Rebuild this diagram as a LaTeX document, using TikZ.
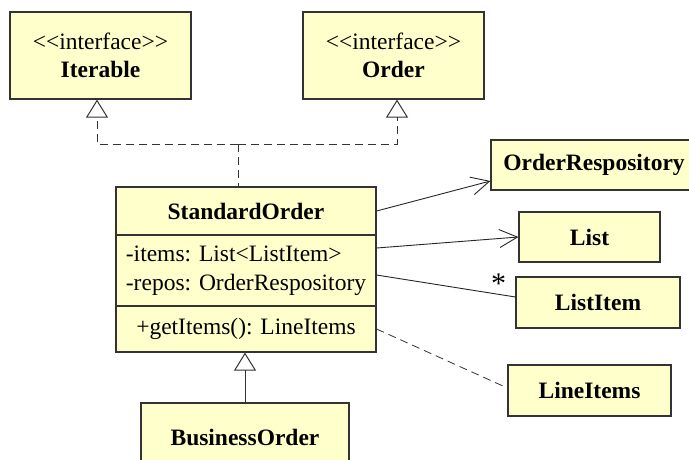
\documentclass[tikz,border=0pt]{standalone}
\usepackage{fontspec}
\setmainfont{Liberation Serif}
\usetikzlibrary{arrows.meta}
\definecolor{umlfill}{RGB}{255,255,204}
\definecolor{umlline}{RGB}{51,51,51}
% guillemets written as two separate signs
\newcommand{\stereo}[1]{<\kern0pt<#1>\kern0pt>}

\begin{document}
\begin{tikzpicture}[x=1pt,y=-1pt,font={\fontsize{23.5}{28.5}\selectfont},cls/.style={draw=umlline,fill=umlfill,line width=1.2pt,align=center,inner sep=0pt},gen/.style={-{Triangle[open,length=18pt,width=22pt]},draw=umlline,line width=1pt},real/.style={gen,dash pattern=on 8pt off 5pt},assoc/.style={-{Straight Barb[length=18pt,width=18pt]},draw=black!85,line width=0.9pt},dep/.style={draw=umlline,line width=0.8pt,dash pattern=on 8pt off 5pt}]
\clip (0,0) rectangle (689,459);
% interfaces
\node[cls,minimum width=181pt,minimum height=87pt](iter) at (100.5,55.5){\stereo{interface}\\\textbf{Iterable}};
\node[cls,minimum width=181pt,minimum height=87pt](order) at (393.5,55.5){\stereo{interface}\\\textbf{Order}};
% class with three compartments
\node[cls,minimum width=260pt,minimum height=48pt](stdname) at (246,211){\textbf{StandardOrder}};
\node[cls,align=left,minimum width=260pt,minimum height=71pt](stdattr) at (246,270.5){-items: List<ListItem>\\-repos: OrderRespository};
\node[cls,minimum width=260pt,minimum height=46pt](stdop) at (246,329){+getItems(): LineItems};
\node[cls,minimum width=208pt,minimum height=68pt](busi) at (245,437){\textbf{BusinessOrder}};
% referenced types
\node[cls,minimum width=206pt,minimum height=50pt](orepo) at (594,165){\textbf{OrderRespository}};
\node[cls,minimum width=141pt,minimum height=50pt](list) at (589.5,237){\textbf{List}};
\node[cls,minimum width=164pt,minimum height=51pt](litem) at (598,302.5){\textbf{ListItem}};
\node[cls,minimum width=163pt,minimum height=51pt](lines) at (589.5,390.5){\textbf{LineItems}};
\coordinate (fork) at (238,144);
\draw[real](fork)-|([xshift=-3.5pt]iter.south);
\draw[real](fork)-|([xshift=3.5pt]order.south);
\draw[dep](fork)--(fork|-stdname.north);
\draw[gen](busi.north)--(busi.north|-stdop.south);
\draw[assoc](stdname.east)--([yshift=-16pt]orepo.west);
\draw[assoc]([yshift=22.5pt]stdattr.east)--(list.west);
\draw[draw=black!85,line width=0.9pt]([yshift=-4.5pt]stdattr.east)--node[pos=0.88,above,inner sep=0pt,font={\fontsize{30}{30}\selectfont}]{*}([yshift=5.5pt]litem.west);
\draw[dep](stdop.east)--([yshift=2.5pt]lines.west);
\end{tikzpicture}
\end{document}
